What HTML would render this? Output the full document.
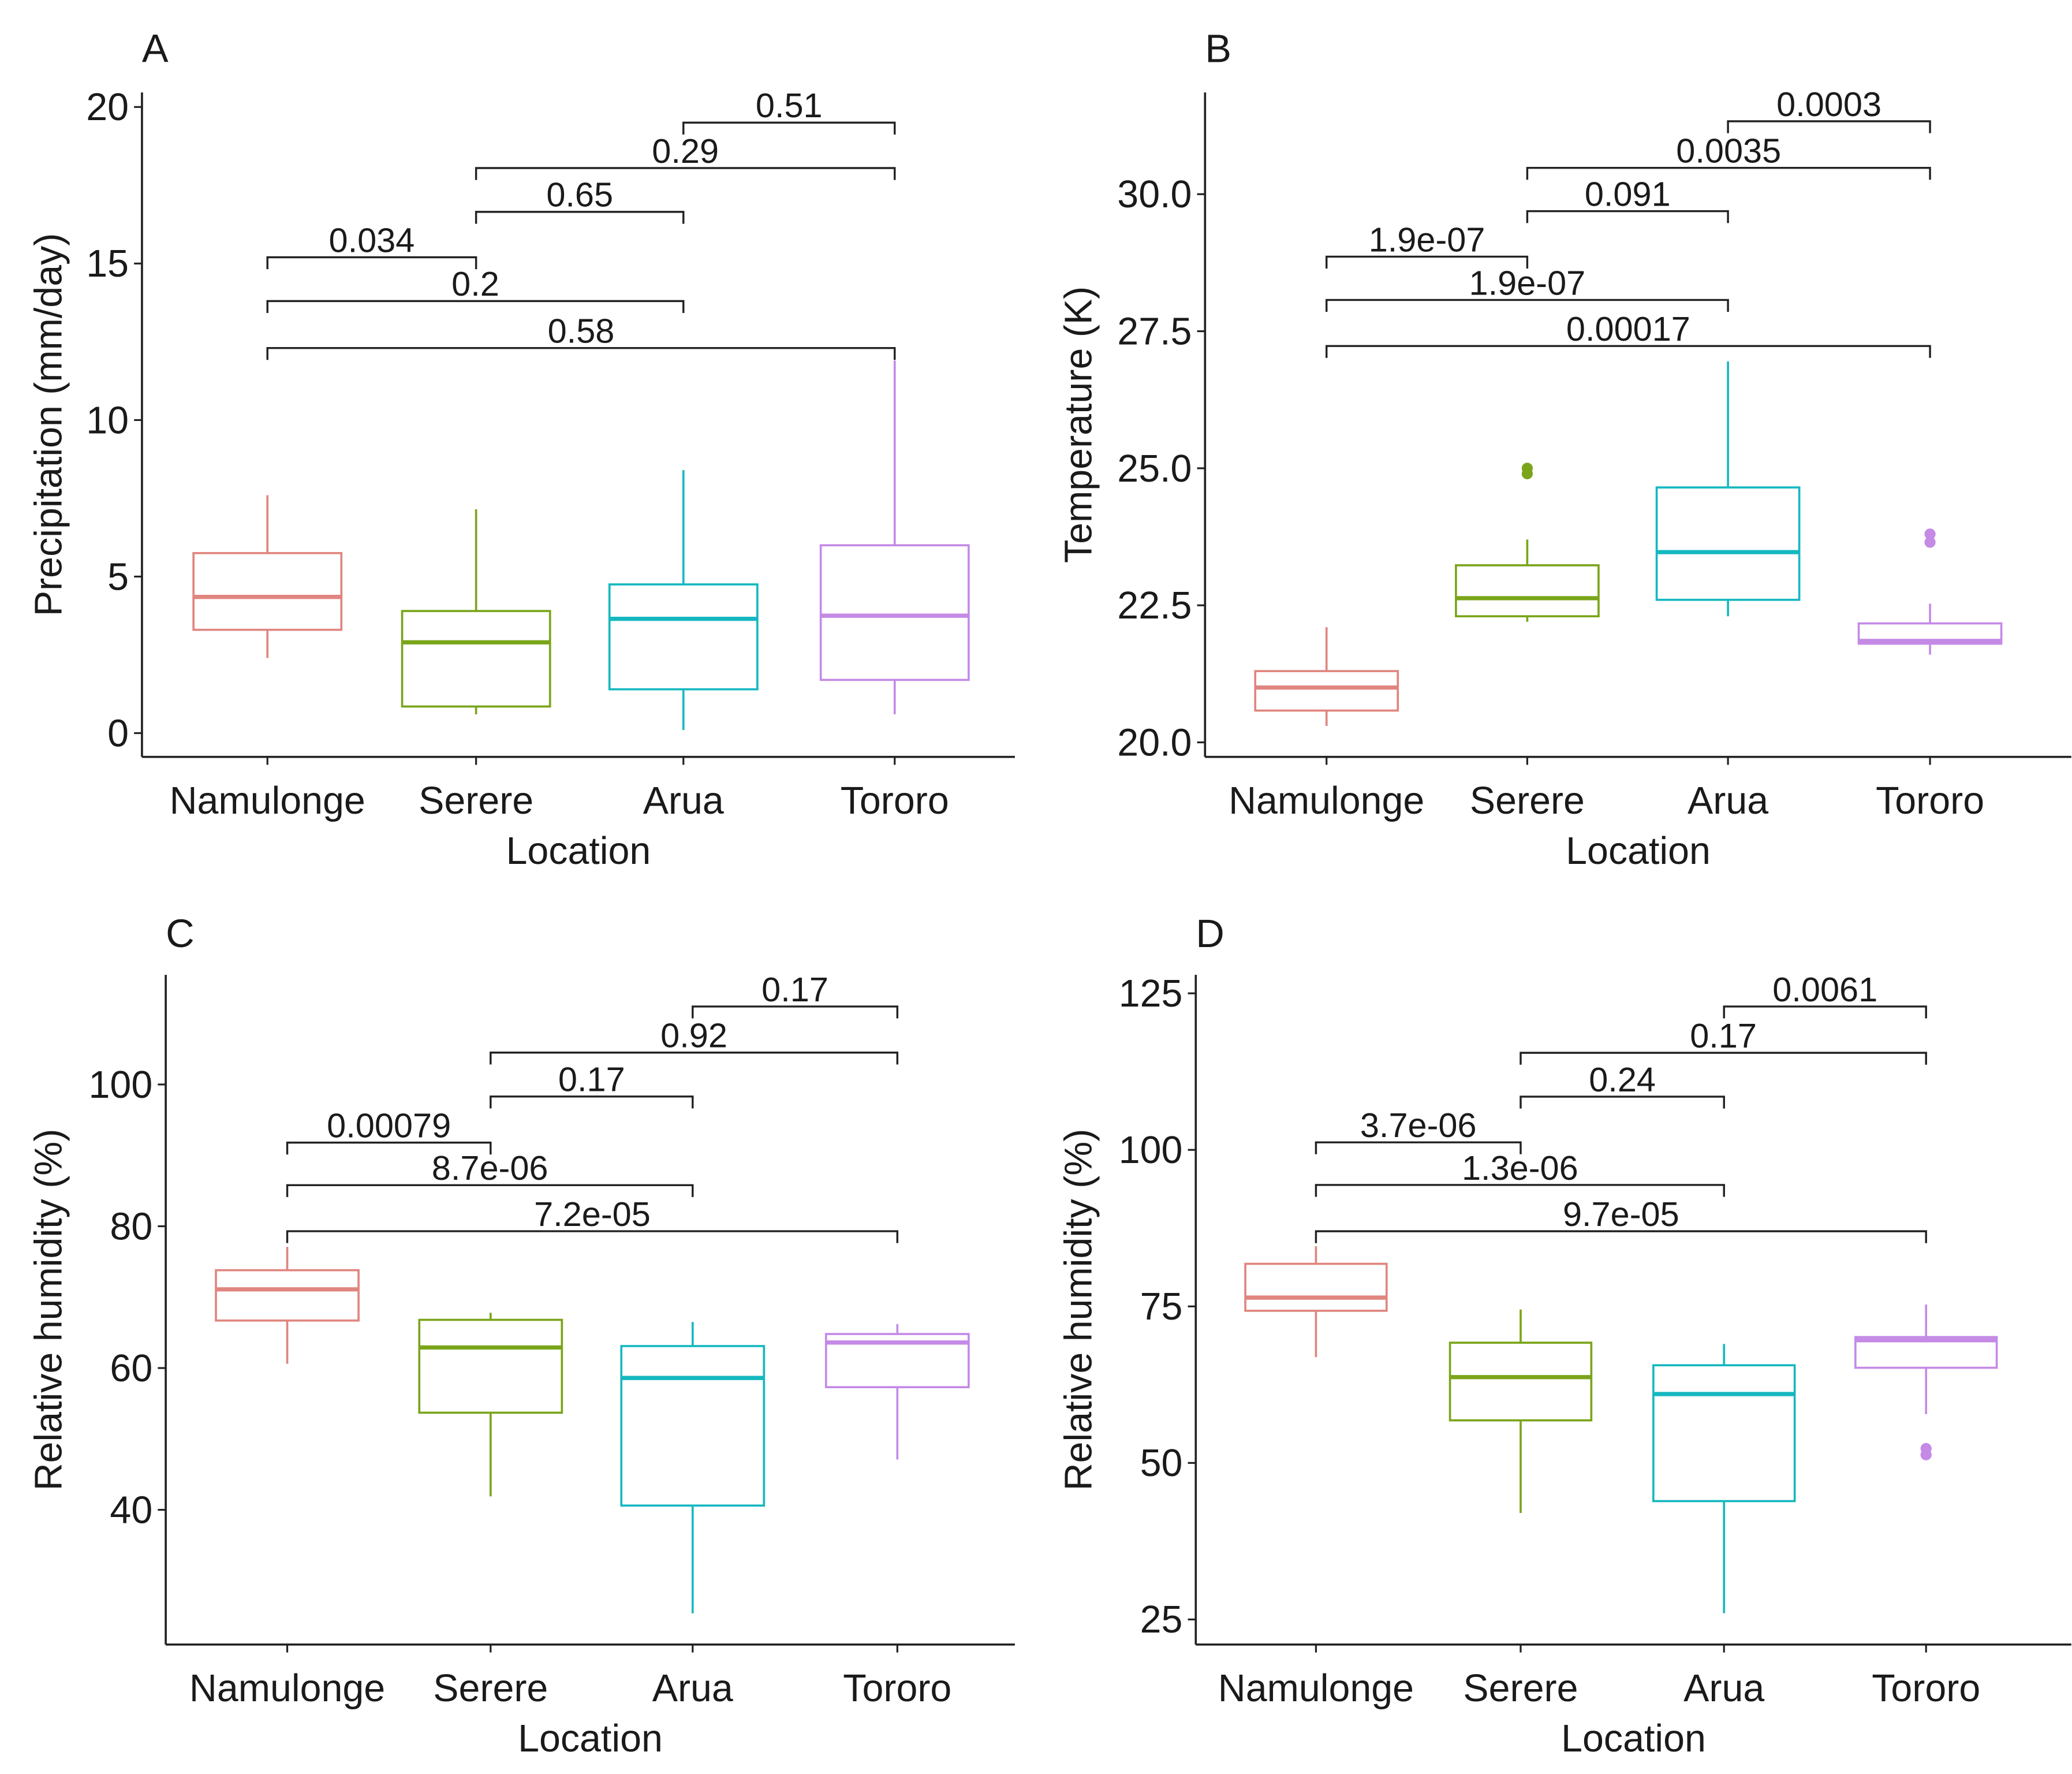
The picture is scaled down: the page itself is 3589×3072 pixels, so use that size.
<!DOCTYPE html>
<html><head><meta charset="utf-8"><style>
html,body{margin:0;padding:0;background:#fff;}
svg{display:block;}
text{font-family:"Liberation Sans",sans-serif;fill:#1a1a1a;}
</style></head><body>
<svg id="chart" width="3589" height="3072" viewBox="0 0 1568 1343" xmlns="http://www.w3.org/2000/svg"></svg>
<script>
const categories = ["Namulonge","Serere","Arua","Tororo"];
const colors = ["#e0857f","#7aa51a","#15b8c0","#c48ae6"];
// Panel A: precipitation
const lowA=[2.4,0.6,0.1,0.6], q1A=[3.3,0.85,1.4,1.7], medA=[4.35,2.9,3.65,3.75], q3A=[5.75,3.9,4.75,6.0], highA=[7.6,7.15,8.4,11.9];
const outA=[[],[],[],[]];
const ticksA=[0,5,10,15,20];
const cmpA=[[2,3,"0.51",19.5],[1,3,"0.29",18.05],[1,2,"0.65",16.65],[0,1,"0.034",15.2],[0,2,"0.2",13.8],[0,3,"0.58",12.3]];
// Panel B: temperature
const lowB=[20.3,22.2,22.3,21.6], q1B=[20.58,22.3,22.6,21.8], medB=[21.0,22.63,23.47,21.85], q3B=[21.3,23.23,24.65,22.17], highB=[22.1,23.7,26.95,22.53];
const outB=[[],[24.9,25.0],[],[23.65,23.8]];
const ticksB=[20.0,22.5,25.0,27.5,30.0];
const cmpB=[[2,3,"0.0003",31.33],[1,3,"0.0035",30.48],[1,2,"0.091",29.69],[0,1,"1.9e-07",28.86],[0,2,"1.9e-07",28.07],[0,3,"0.00017",27.23]];
// Panel C: relative humidity
const lowC=[60.6,41.9,25.4,47.1], q1C=[66.7,53.7,40.6,57.3], medC=[71.1,62.9,58.6,63.6], q3C=[73.8,66.8,63.1,64.8], highC=[77.1,67.8,66.5,66.2];
const outC=[[],[],[],[]];
const ticksC=[40,60,80,100];
const cmpC=[[2,3,"0.17",111.0],[1,3,"0.92",104.5],[1,2,"0.17",98.3],[0,1,"0.00079",91.8],[0,2,"8.7e-06",85.8],[0,3,"7.2e-05",79.3]];
// Panel D: relative humidity
const lowD=[66.9,42,26,57.8], q1D=[74.3,56.8,43.9,65.2], medD=[76.4,63.7,61,69.6], q3D=[81.8,69.2,65.6,70.1], highD=[84.6,74.5,69,75.3];
const outD=[[],[],[],[51.3,52.3]];
const ticksD=[25,50,75,100,125];
const cmpD=[[2,3,"0.0061",122.9],[1,3,"0.17",115.5],[1,2,"0.24",108.5],[0,1,"3.7e-06",101.2],[0,2,"1.3e-06",94.4],[0,3,"9.7e-05",87.0]];

const NS="http://www.w3.org/2000/svg";
const svg=document.getElementById("chart");
function mk(tag,attrs,parent,txt){const e=document.createElementNS(NS,tag);for(const k in attrs)e.setAttribute(k,attrs[k]);if(txt!==undefined)e.textContent=txt;(parent||svg).appendChild(e);return e;}

function panel(cfg){
  const g=mk("g",{});
  
  
  const yS=v=>cfg.y0px+(v-cfg.v0)*(cfg.y1px-cfg.y0px)/(cfg.v1-cfg.v0);
  const xS=i=>cfg.xs[i];
  const L=mk("text",{x:cfg.letterX,y:cfg.letterY,"font-size":30},g,cfg.letter);
  
  
  const ya=mk("line",{x1:cfg.axX,x2:cfg.axX,y1:cfg.top,y2:cfg.bottom,stroke:"#222","stroke-width":1.6},g);
  
  
  const xa=mk("line",{x1:cfg.axX,x2:cfg.right,y1:cfg.bottom,y2:cfg.bottom,stroke:"#222","stroke-width":1.6},g);
  
  
  cfg.ticks.forEach(t=>{
    const y=yS(t);
    mk("line",{x1:cfg.axX-6,x2:cfg.axX,y1:y,y2:y,stroke:"#222","stroke-width":1.4},g);
    const tl=mk("text",{x:cfg.axX-10,y:y+10,"font-size":29,"text-anchor":"end"},g,cfg.fmt(t));
    
    
  });
  categories.forEach((c,i)=>{
    mk("line",{x1:xS(i),x2:xS(i),y1:cfg.bottom,y2:cfg.bottom+6,stroke:"#222","stroke-width":1.4},g);
    const tl=mk("text",{x:xS(i),y:cfg.bottom+43,"font-size":29,"text-anchor":"middle"},g,c);
    
    
  });
  const xt=mk("text",{x:(cfg.axX+cfg.right)/2,y:cfg.bottom+81,"font-size":29,"text-anchor":"middle"},g,"Location");
  
  
  const cy=(cfg.top+cfg.bottom)/2+(cfg.titleShift||0);
  const yt=mk("text",{x:cfg.titleX,y:cy,"font-size":29,"text-anchor":"middle",transform:`rotate(-90 ${cfg.titleX} ${cy})`},g,cfg.ytitle);
  
  
  categories.forEach((c,i)=>{
    const x=xS(i),w=cfg.bw,col=colors[i];
    const bg=mk("g",{},g);
    
    
    mk("line",{x1:x,x2:x,y1:yS(cfg.high[i]),y2:yS(cfg.q3[i]),stroke:col,"stroke-width":1.6},bg);
    mk("line",{x1:x,x2:x,y1:yS(cfg.q1[i]),y2:yS(cfg.low[i]),stroke:col,"stroke-width":1.6},bg);
    mk("rect",{x:x-w/2,y:yS(cfg.q3[i]),width:w,height:yS(cfg.q1[i])-yS(cfg.q3[i]),fill:"none",stroke:col,"stroke-width":1.6},bg);
    mk("line",{x1:x-w/2,x2:x+w/2,y1:yS(cfg.med[i]),y2:yS(cfg.med[i]),stroke:col,"stroke-width":3.2},bg);
    cfg.out[i].forEach(o=>{const p=mk("circle",{cx:x,cy:yS(o),r:4.2,fill:col},bg);
      
      });
  });
  cfg.cmp.forEach(([a,b,lab,v])=>{
    const y=yS(v);
    const bgp=mk("g",{},g);
    
    
    mk("path",{d:`M${xS(a)},${y+9}V${y}H${xS(b)}V${y+9}`,fill:"none",stroke:"#222","stroke-width":1.5},bgp);
    mk("text",{x:(xS(a)+xS(b))/2,y:y-4,"font-size":26,"text-anchor":"middle"},bgp,lab);
  });
}
const f0=t=>String(t), f1=t=>t.toFixed(1);
panel({letter:"A",letterX:107,letterY:47,axX:107,top:70,bottom:573,right:768,xs:[202,360,517,677],bw:112,
  v0:0,v1:20,y0px:555,y1px:81,ticks:ticksA,fmt:f0,ytitle:"Precipitation (mm/day)",titleX:46,
  low:lowA,q1:q1A,med:medA,q3:q3A,high:highA,out:outA,cmp:cmpA});
panel({letter:"B",letterX:912,letterY:47,axX:912,top:70,bottom:573,right:1568,xs:[1004,1156,1308,1461],bw:108,
  v0:20,v1:30,y0px:562,y1px:147,ticks:ticksB,fmt:f1,ytitle:"Temperature (K)",titleX:826,
  low:lowB,q1:q1B,med:medB,q3:q3B,high:highB,out:outB,cmp:cmpB});
panel({letter:"C",letterX:125,letterY:717,axX:125,top:738,bottom:1245,right:768,xs:[217,371,524,679],bw:108,
  v0:40,v1:100,y0px:1143,y1px:821,ticks:ticksC,fmt:f0,ytitle:"Relative humidity (%)",titleX:46,
  low:lowC,q1:q1C,med:medC,q3:q3C,high:highC,out:outC,cmp:cmpC});
panel({letter:"D",letterX:905,letterY:717,axX:905,top:738,bottom:1245,right:1568,xs:[996,1151,1305,1458],bw:107,
  v0:25,v1:125,y0px:1226,y1px:752,ticks:ticksD,fmt:f0,ytitle:"Relative humidity (%)",titleX:826,
  low:lowD,q1:q1D,med:medD,q3:q3D,high:highD,out:outD,cmp:cmpD});
</script>
</body></html>
